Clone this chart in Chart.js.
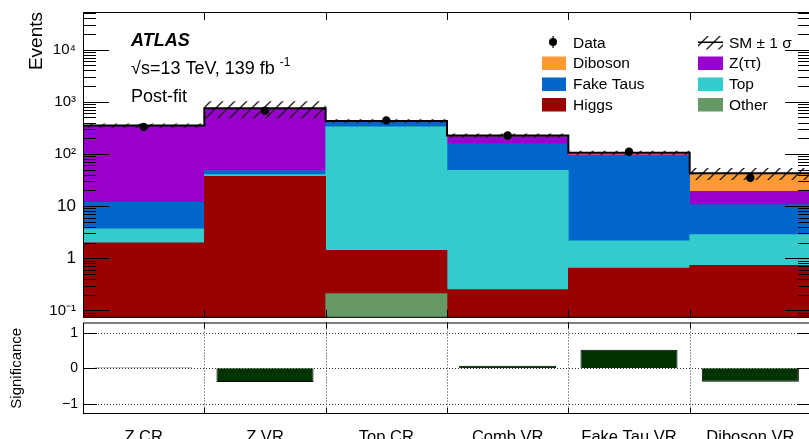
<!DOCTYPE html>
<html>
<head>
<meta charset="utf-8">
<script src="https://cdn.jsdelivr.net/npm/chart.js@4.4.0/dist/chart.umd.min.js"></script>
<style>
  html, body { margin: 0; padding: 0; background: #fff; overflow: hidden; }
  #wrap { position: relative; width: 809px; height: 439px; overflow: hidden; }
  #mainBox { position: absolute; left: 0; top: 0; width: 830px; height: 322px; }
  #sigBox { position: absolute; left: 0; top: 318px; width: 830px; height: 121px; }
</style>
</head>
<body>
<div id="wrap">
  <div id="mainBox"><canvas id="mainChart"></canvas></div>
  <div id="sigBox"><canvas id="sigChart"></canvas></div>
</div>
<script>
const regions = ['Z CR', 'Z VR', 'Top CR', 'Comb VR', 'Fake Tau VR', 'Diboson VR'];

// background yields per region, bottom of the stack first
const other    = [0,    0,    0.21, 0,    0,    0];
const higgs    = [1.97, 37,   1.2,  0.25, 0.65, 0.73];
const topq     = [1.7,  3,    328,  48,   1.5,  2.1];
const fakeTaus = [8.1,  8,    95,   109,  92,   7.8];
const ztautau  = [335,  700,  3,    57,   2,    8.5];
const diboson  = [3,    2,    1,    12,   9,    23.4];

const smUnc = [35, 270, 35, 20, 10, 11];
const dataObs = [330, 675, 440, 225, 110, 35];
const significance = [0.02, -0.39, -0.006, 0.07, 0.52, -0.38];

const yTickVals = [0.1, 1, 10, 100, 1000, 10000];
const yTickLabels = ['10\u207B\u00B9', '1', '10', '10\u00B2', '10\u00B3', '10\u2074'];
const sigTickVals = [-1, 0, 1];
const sigTickLabels = ['\u22121', '0', '1'];

const FONT = '"Liberation Sans", Arial, sans-serif';
Chart.defaults.font.family = FONT;
Chart.defaults.color = '#000';

const stack = [
  { label: 'Other', data: other, color: '#669966' },
  { label: 'Higgs', data: higgs, color: '#990000' },
  { label: 'Top', data: topq, color: '#33cccc' },
  { label: 'Fake Taus', data: fakeTaus, color: '#0066cc' },
  { label: 'Z(\u03C4\u03C4)', data: ztautau, color: '#9900cc' },
  { label: 'Diboson', data: diboson, color: '#ff9933' }
];

// floating bars from the running sum (log axis can't take a 0 base)
const running = regions.map(() => 0);
const barSets = stack.map((s, k) => {
  const d = s.data.map((v, i) => {
    const lo = running[i] > 0 ? running[i] : 1e-4;
    running[i] += v;
    return [lo, Math.max(running[i], lo)];
  });
  return {
    type: 'bar', label: s.label, data: d, backgroundColor: s.color,
    borderWidth: 0, barPercentage: 1, categoryPercentage: 1, grouped: false,
    xAxisID: 'x', order: 10 + k
  };
});
const totals = running.slice();

function steps(vals) {
  const pts = [];
  vals.forEach((v, i) => { pts.push({ x: i, y: v }, { x: i + 1, y: v }); });
  return pts;
}

function hatchPattern(ctx) {
  const c = document.createElement('canvas');
  c.width = 12; c.height = 12;
  const g = c.getContext('2d');
  g.strokeStyle = '#222';
  g.lineWidth = 1.4;
  g.beginPath();
  g.moveTo(0, 12); g.lineTo(12, 0);
  g.moveTo(-3, 3); g.lineTo(3, -3);
  g.moveTo(9, 15); g.lineTo(15, 9);
  g.stroke();
  return ctx.createPattern(c, 'repeat');
}

function noPad(s, w) {
  s.width = w;
  s.paddingTop = 0; s.paddingBottom = 0; s.paddingLeft = 0; s.paddingRight = 0;
}

const mainCtx = document.getElementById('mainChart').getContext('2d');
const hatch = hatchPattern(mainCtx);

const legendRows = [47.5, 68, 89, 109.5];

const mainDeco = {
  id: 'mainDeco',
  afterDraw(chart) {
    const { ctx, chartArea: a, scales } = chart;
    const y = scales.y, xl = scales.xl;
    ctx.save();
    ctx.strokeStyle = '#000';
    ctx.lineWidth = 1;
    ctx.strokeRect(a.left + 0.5, a.top + 0.5, a.right - a.left - 1, a.bottom - a.top - 1);
    ctx.beginPath();
    for (let d = -2; d <= 5; d++) {
      for (let m = 1; m <= 9; m++) {
        const v = m * Math.pow(10, d);
        if (v < y.min || v > y.max) continue;
        const p = Math.round(y.getPixelForValue(v)) + 0.5;
        const len = m === 1 ? 26 : 13;
        ctx.moveTo(a.left, p); ctx.lineTo(a.left + len, p);
        ctx.moveTo(a.right, p); ctx.lineTo(a.right - len, p);
      }
    }
    for (let i = 1; i < regions.length; i++) {
      const p = Math.round(xl.getPixelForValue(i)) + 0.5;
      ctx.moveTo(p, a.top); ctx.lineTo(p, a.top + 8);
      ctx.moveTo(p, a.bottom); ctx.lineTo(p, a.bottom - 8);
    }
    ctx.stroke();

    // labels
    ctx.fillStyle = '#000';
    ctx.textBaseline = 'alphabetic';
    ctx.textAlign = 'left';
    ctx.font = 'italic bold 18px ' + FONT;
    ctx.fillText('ATLAS', 131, 46);
    ctx.font = '18px ' + FONT;
    const lumi = '\u221As=13 TeV, 139 fb';
    ctx.fillText(lumi, 131, 74);
    const w = ctx.measureText(lumi).width;
    ctx.font = '12px ' + FONT;
    ctx.fillText('-1', 131 + w + 5, 66);
    ctx.font = '18px ' + FONT;
    ctx.fillText('Post-fit', 131, 101.5);

    // legend
    ctx.font = '15.5px ' + FONT;
    const col1 = [['Data'], ['Diboson', '#ff9933'], ['Fake Taus', '#0066cc'], ['Higgs', '#990000']];
    const col2 = [['SM \u00B1 1 \u03C3'], ['Z(\u03C4\u03C4)', '#9900cc'], ['Top', '#33cccc'], ['Other', '#669966']];
    col1.forEach((it, r) => {
      const b = legendRows[r];
      if (it[1]) {
        ctx.fillStyle = it[1];
        ctx.fillRect(542, b - 11.5, 24, 13.5);
      } else {
        ctx.fillStyle = '#000';
        ctx.beginPath();
        ctx.arc(553, b - 5.5, 4, 0, Math.PI * 2);
        ctx.fill();
        ctx.fillRect(552.5, b - 11.5, 1.2, 12);
      }
      ctx.fillStyle = '#000';
      ctx.fillText(it[0], 573, b);
    });
    col2.forEach((it, r) => {
      const b = legendRows[r];
      if (it[1]) {
        ctx.fillStyle = it[1];
        ctx.fillRect(698, b - 11.5, 25, 13.5);
      } else {
        ctx.fillStyle = hatch;
        ctx.fillRect(698, b - 11.5, 25, 13.5);
        ctx.fillStyle = '#000';
        ctx.fillRect(698, b - 6, 25, 1.5);
      }
      ctx.fillStyle = '#000';
      ctx.fillText(it[0], 729, b);
    });
    ctx.restore();
  }
};

new Chart(mainCtx, {
  data: {
    labels: regions,
    datasets: [
      {
        type: 'scatter', label: 'Data', data: dataObs.map((v, i) => ({ x: i + 0.5, y: v })),
        xAxisID: 'xl', pointRadius: 4.2, pointBackgroundColor: '#000', pointBorderWidth: 0, order: 0
      },
      {
        type: 'line', label: 'SM', data: steps(totals), xAxisID: 'xl',
        borderColor: '#000', borderWidth: 2, pointRadius: 0, fill: false, order: 1
      },
      {
        type: 'line', label: 'SM up', data: steps(totals.map((t, i) => t + smUnc[i])), xAxisID: 'xl',
        borderWidth: 0, pointRadius: 0, backgroundColor: hatch, fill: '+1', order: 2
      },
      {
        type: 'line', label: 'SM down', data: steps(totals.map((t, i) => t - smUnc[i])), xAxisID: 'xl',
        borderWidth: 0, pointRadius: 0, fill: false, order: 3
      },
      ...barSets
    ]
  },
  options: {
    responsive: true,
    maintainAspectRatio: false,
    animation: false,
    layout: { padding: { top: 12, right: 19, bottom: 1, left: 0 } },
    plugins: { legend: { display: false }, tooltip: { enabled: false } },
    scales: {
      x: { type: 'category', display: false, offset: true },
      xl: { type: 'linear', display: false, min: 0, max: 6 },
      y: {
        type: 'logarithmic',
        min: 0.0721,
        max: 52600,
        afterBuildTicks: s => { s.ticks = yTickVals.map(v => ({ value: v, major: true })); },
        afterFit: s => noPad(s, 83),
        grid: { display: false, drawTicks: false },
        border: { display: false },
        ticks: {
          padding: 7,
          color: '#000',
          autoSkip: false,
          font: c => ({ size: [0, 3, 4, 5].includes(c.index) ? 15 : 17, family: FONT }),
          callback: (v, i) => yTickLabels[i]
        },
        title: {
          display: true, text: 'Events', align: 'end', color: '#000',
          font: { size: 19, family: FONT }, padding: { top: 25, bottom: 0 }
        }
      }
    }
  },
  plugins: [mainDeco]
});

const sigDeco = {
  id: 'sigDeco',
  beforeDatasetsDraw(chart) {
    const { ctx, chartArea: a, scales } = chart;
    const x = scales.x, y = scales.y;
    ctx.save();
    ctx.strokeStyle = '#333';
    ctx.lineWidth = 1;
    ctx.setLineDash([1, 2]);
    ctx.beginPath();
    sigTickVals.forEach(v => {
      const p = Math.round(y.getPixelForValue(v)) + 0.5;
      ctx.moveTo(a.left, p); ctx.lineTo(a.right, p);
    });
    for (let i = 1; i < regions.length; i++) {
      const p = Math.round((x.getPixelForValue(i - 1) + x.getPixelForValue(i)) / 2) + 0.5;
      ctx.moveTo(p, a.top); ctx.lineTo(p, a.bottom);
    }
    ctx.stroke();
    ctx.restore();
  },
  afterDraw(chart) {
    const { ctx, chartArea: a, scales } = chart;
    const x = scales.x, y = scales.y;
    ctx.save();
    ctx.strokeStyle = '#000';
    ctx.lineWidth = 1;
    ctx.strokeRect(a.left + 0.5, a.top + 0.5, a.right - a.left - 1, a.bottom - a.top - 1);
    ctx.beginPath();
    sigTickVals.forEach(v => {
      const p = Math.round(y.getPixelForValue(v)) + 0.5;
      ctx.moveTo(a.left, p); ctx.lineTo(a.left + 14, p);
      ctx.moveTo(a.right, p); ctx.lineTo(a.right - 14, p);
    });
    for (let i = 1; i < regions.length; i++) {
      const p = Math.round((x.getPixelForValue(i - 1) + x.getPixelForValue(i)) / 2) + 0.5;
      ctx.moveTo(p, a.top); ctx.lineTo(p, a.top + 6);
      ctx.moveTo(p, a.bottom); ctx.lineTo(p, a.bottom - 6);
    }
    ctx.stroke();
    ctx.restore();
  }
};

new Chart(document.getElementById('sigChart'), {
  type: 'bar',
  data: {
    labels: regions,
    datasets: [{
      label: 'Significance', data: significance,
      backgroundColor: '#003300', borderColor: '#000', borderWidth: 1,
      barPercentage: 0.8, categoryPercentage: 1
    }]
  },
  options: {
    responsive: true,
    maintainAspectRatio: false,
    animation: false,
    layout: { padding: { top: 4.5, right: 19, bottom: 0, left: 0 } },
    plugins: { legend: { display: false }, tooltip: { enabled: false } },
    scales: {
      x: {
        afterFit: s => { noPad(s, s.width); s.height = 25; },
        grid: { display: false, drawTicks: false },
        border: { display: false },
        ticks: { padding: 14, color: '#000', font: { size: 16.5, family: '"Liberation Sans Narrow", ' + FONT } }
      },
      y: {
        min: -1.29,
        max: 1.29,
        afterBuildTicks: s => { s.ticks = sigTickVals.map(v => ({ value: v })); },
        afterFit: s => noPad(s, 83),
        grid: { display: false, drawTicks: false },
        border: { display: false },
        ticks: { padding: 5, color: '#000', font: { size: 14, family: FONT }, callback: (v, i) => sigTickLabels[i] },
        title: {
          display: true, text: 'Significance', color: '#000',
          font: { size: 15, family: FONT }, padding: { top: 8, bottom: 0 }
        }
      }
    }
  },
  plugins: [sigDeco]
});
</script>
</body>
</html>
